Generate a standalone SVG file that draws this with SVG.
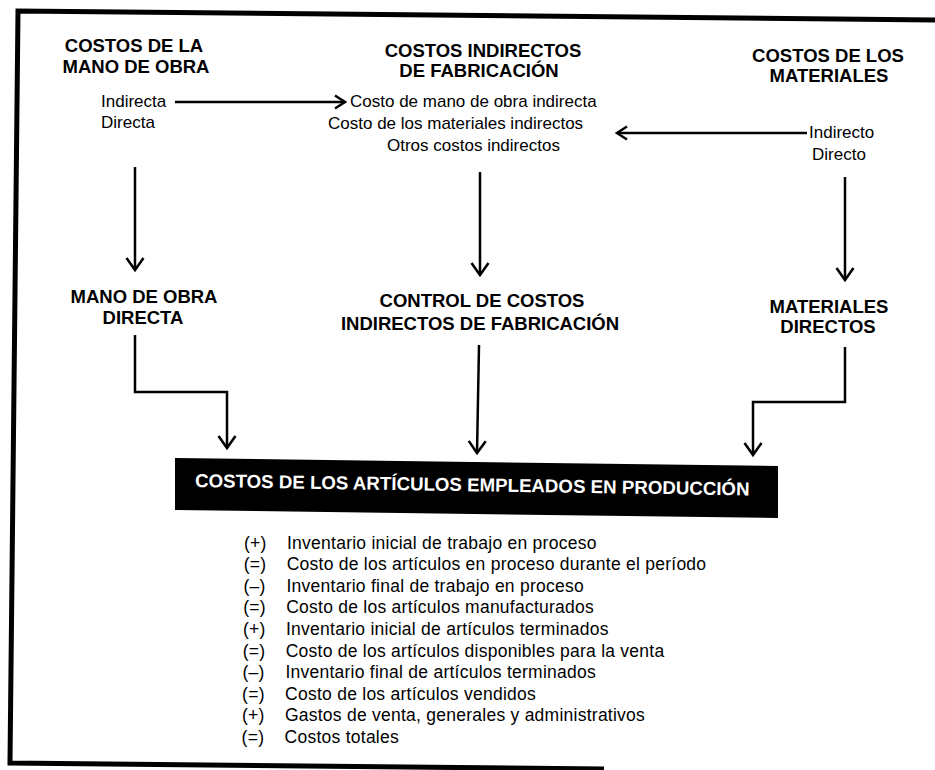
<svg xmlns="http://www.w3.org/2000/svg" width="935" height="770" viewBox="0 0 935 770">
<defs>
<style>
.h{font-family:"Liberation Sans",Arial,sans-serif;font-weight:bold;font-size:18.5px;text-anchor:middle;fill:#000}
.t{font-family:"Liberation Sans",Arial,sans-serif;font-size:17px;fill:#000}
.l{font-family:"Liberation Sans",Arial,sans-serif;font-size:17.5px;letter-spacing:0.25px;fill:#000}
.b{font-family:"Liberation Sans",Arial,sans-serif;font-weight:bold;font-size:18.7px;fill:#fff}
.c{fill:none;stroke:#000;stroke-width:2.5}
.ca{marker-end:url(#arr)}
.cs{marker-end:url(#arrs)}
</style>
<marker id="arr" markerUnits="userSpaceOnUse" viewBox="-16 -12 20 24" markerWidth="20" markerHeight="24" refX="0" refY="0" orient="auto">
<path d="M-12,-8.5 L0,0 L-12,8.5" fill="none" stroke="#000" stroke-width="2.5"/>
</marker>
<marker id="arrs" markerUnits="userSpaceOnUse" viewBox="-14 -10 18 20" markerWidth="18" markerHeight="20" refX="0" refY="0" orient="auto">
<path d="M-10,-6.5 L0,0 L-10,6.5" fill="none" stroke="#000" stroke-width="2.5"/>
</marker>
</defs>
<rect width="935" height="770" fill="#fff"/>
<g id="frame">
<path d="M940,20 L18,11 L10,763 L604,769" fill="none" stroke="#000" stroke-width="5" stroke-linejoin="miter"/>
</g>
<g id="node-costos-mano-obra">
<text class="h" x="134" y="52">COSTOS DE LA</text>
<text class="h" x="136" y="73">MANO DE OBRA</text>
<text class="t" x="101" y="107">Indirecta</text>
<text class="t" x="101" y="128">Directa</text>
</g>
<g id="node-costos-indirectos">
<text class="h" x="483" y="57">COSTOS INDIRECTOS</text>
<text class="h" x="479" y="77">DE FABRICACIÓN</text>
<text class="t" x="350" y="107">Costo de mano de obra indirecta</text>
<text class="t" x="328" y="129">Costo de los materiales indirectos</text>
<text class="t" x="387" y="151">Otros costos indirectos</text>
</g>
<g id="node-costos-materiales">
<text class="h" x="828" y="62">COSTOS DE LOS</text>
<text class="h" x="829" y="82">MATERIALES</text>
<text class="t" x="809" y="138">Indirecto</text>
<text class="t" x="812" y="160">Directo</text>
</g>
<g id="node-mano-obra-directa">
<text class="h" x="144" y="303">MANO DE OBRA</text>
<text class="h" x="143" y="324">DIRECTA</text>
</g>
<g id="node-control-cif">
<text class="h" x="482" y="307">CONTROL DE COSTOS</text>
<text class="h" x="480" y="330">INDIRECTOS DE FABRICACIÓN</text>
</g>
<g id="node-materiales-directos">
<text class="h" x="829" y="313">MATERIALES</text>
<text class="h" x="828" y="333">DIRECTOS</text>
</g>
<g id="node-costos-articulos">
<polygon points="175,458 778,466 778,518 175,510" fill="#000"/>
<text class="b" x="195" y="487" transform="rotate(0.87 195 487)">COSTOS DE LOS ARTÍCULOS EMPLEADOS EN PRODUCCIÓN</text>
</g>
<g id="node-calculo" class="l">
<text x="244" y="548.5">(+)</text>
<text x="243.7" y="570.1">(=)</text>
<text x="243.5" y="591.7">(–)</text>
<text x="243.2" y="613.3">(=)</text>
<text x="243" y="634.9">(+)</text>
<text x="242.7" y="656.5">(=)</text>
<text x="242.4" y="678.1">(–)</text>
<text x="242.1" y="699.7">(=)</text>
<text x="241.9" y="721.3">(+)</text>
<text x="241.6" y="742.9">(=)</text>
<text x="287" y="548.5">Inventario inicial de trabajo en proceso</text>
<text x="286.7" y="570.1">Costo de los artículos en proceso durante el período</text>
<text x="286.5" y="591.7">Inventario final de trabajo en proceso</text>
<text x="286.2" y="613.3">Costo de los artículos manufacturados</text>
<text x="286" y="634.9">Inventario inicial de artículos terminados</text>
<text x="285.7" y="656.5">Costo de los artículos disponibles para la venta</text>
<text x="285.4" y="678.1">Inventario final de artículos terminados</text>
<text x="285.1" y="699.7">Costo de los artículos vendidos</text>
<text x="284.9" y="721.3">Gastos de venta, generales y administrativos</text>
<text x="284.6" y="742.9">Costos totales</text>
</g>
<g id="connectors">
<path class="c cs" d="M175,102 L345,102"/>
<path class="c cs" d="M807,133 L617,133"/>
<path class="c ca" d="M135,167 L135,270"/>
<path class="c ca" d="M480,172 L480,275"/>
<path class="c ca" d="M845,177 L845,280"/>
<path class="c ca" d="M135,335 V392 H227 V448"/>
<path class="c ca" d="M479,345 L477,453"/>
<path class="c ca" d="M845,347 V402 H753 V455"/>
</g>
</svg>
